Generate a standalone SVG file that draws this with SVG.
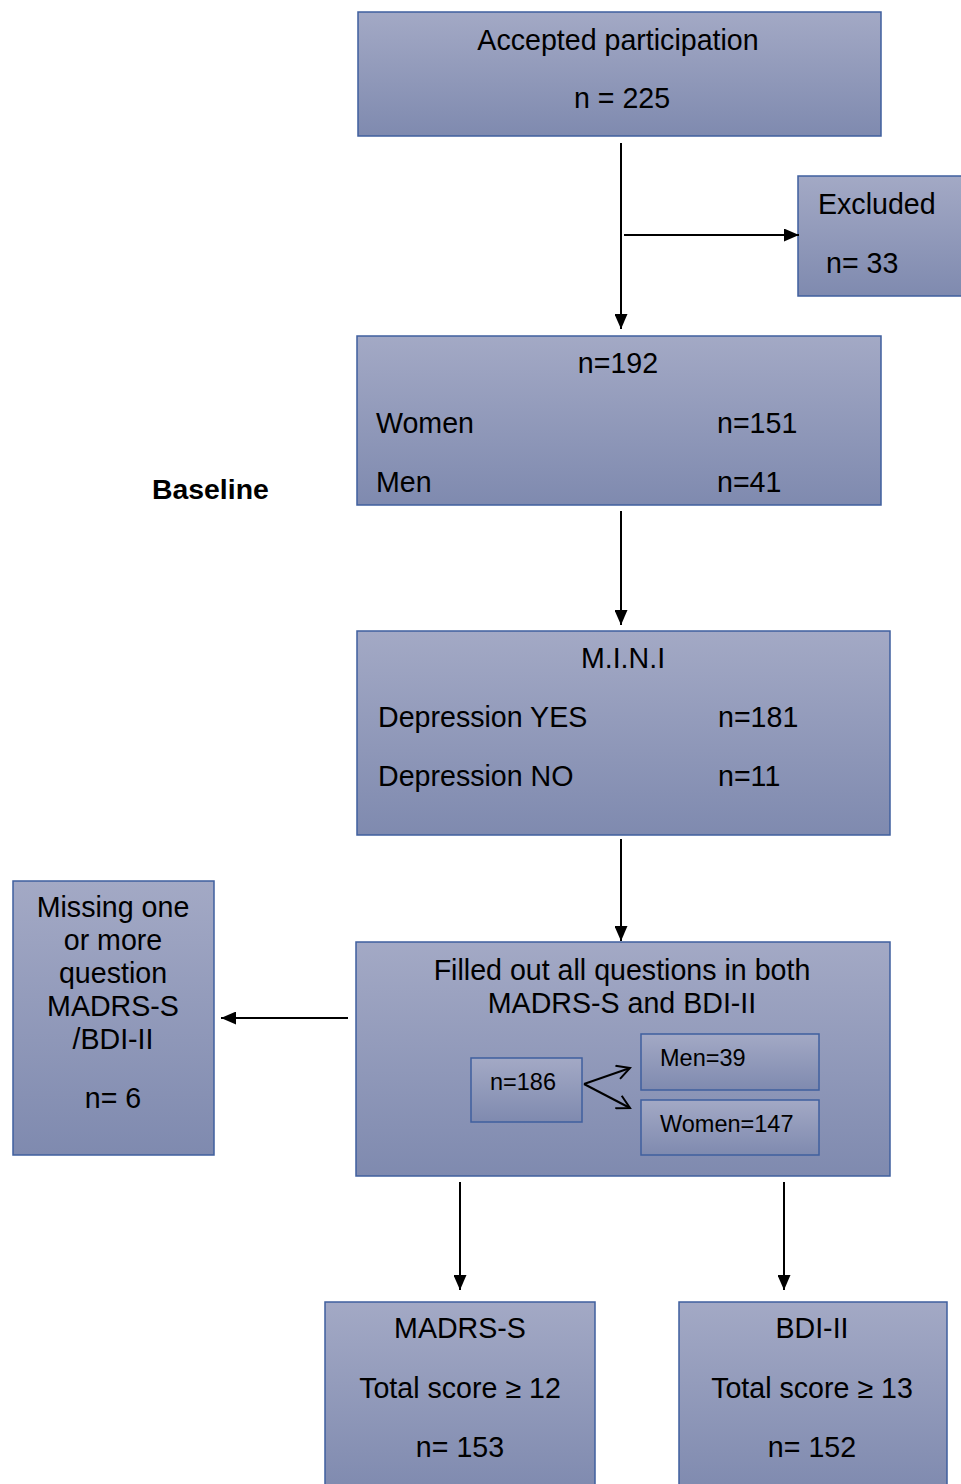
<svg xmlns="http://www.w3.org/2000/svg" width="961" height="1484" viewBox="0 0 961 1484">
<defs>
<linearGradient id="g" x1="0" y1="0" x2="0" y2="1">
<stop offset="0" stop-color="#a3a9c5"/>
<stop offset="1" stop-color="#7f8aaf"/>
</linearGradient>
<marker id="ah" markerWidth="15" markerHeight="13" refX="15" refY="6.5" orient="auto" markerUnits="userSpaceOnUse">
<path d="M0,0 L15,6.5 L0,13 Z" fill="#000"/>
</marker>
<marker id="oh" markerWidth="16" markerHeight="16" refX="14" refY="8" orient="auto" markerUnits="userSpaceOnUse">
<path d="M1,1 L14,8 L1,15" fill="none" stroke="#000" stroke-width="2"/>
</marker>
<style>
.box{fill:url(#g);stroke:#3f5f9e;stroke-width:1.5}
.t{font-family:"Liberation Sans",Arial,sans-serif;font-size:28.6px;fill:#000}
.s{font-family:"Liberation Sans",Arial,sans-serif;font-size:23.5px;fill:#000}
.c{text-anchor:middle}
.ln{stroke:#000;stroke-width:2;fill:none}
</style>
</defs>
<rect width="961" height="1484" fill="#fff"/>
<g id="accepted">
<rect class="box" x="358" y="12" width="523" height="124"/>
<text class="t c" x="618" y="50">Accepted participation</text>
<text class="t c" x="622" y="108">n = 225</text>
</g>
<g id="excluded">
<rect class="box" x="798" y="176" width="170" height="120"/>
<text class="t" x="818" y="214">Excluded</text>
<text class="t" x="826" y="273">n= 33</text>
</g>
<g id="n192">
<rect class="box" x="357" y="336" width="524" height="169"/>
<text class="t c" x="618" y="373">n=192</text>
<text class="t" x="376" y="433">Women</text>
<text class="t" x="717" y="433">n=151</text>
<text class="t" x="376" y="492">Men</text>
<text class="t" x="717" y="492">n=41</text>
</g>
<g id="baseline">
<text class="t" x="152" y="499" style="font-weight:bold;font-size:28.4px">Baseline</text>
</g>
<g id="mini">
<rect class="box" x="357" y="631" width="533" height="204"/>
<text class="t c" x="623" y="668">M.I.N.I</text>
<text class="t" x="378" y="727">Depression YES</text>
<text class="t" x="718" y="727">n=181</text>
<text class="t" x="378" y="786">Depression NO</text>
<text class="t" x="718" y="786">n=11</text>
</g>
<g id="filled">
<rect class="box" x="356" y="942" width="534" height="234"/>
<text class="t c" x="622" y="980">Filled out all questions in both</text>
<text class="t c" x="622" y="1013">MADRS-S and BDI-II</text>
</g>
<g id="n186">
<rect class="box" x="471" y="1058" width="111" height="64"/>
<text class="s" x="490" y="1090">n=186</text>
</g>
<g id="men39">
<rect class="box" x="641" y="1034" width="178" height="56"/>
<text class="s" x="660" y="1066">Men=39</text>
</g>
<g id="women147">
<rect class="box" x="641" y="1100" width="178" height="55"/>
<text class="s" x="660" y="1132">Women=147</text>
</g>
<g id="missing">
<rect class="box" x="13" y="881" width="201" height="274"/>
<text class="t c" x="113" y="917">Missing one</text>
<text class="t c" x="113" y="950">or more</text>
<text class="t c" x="113" y="983">question</text>
<text class="t c" x="113" y="1016">MADRS-S</text>
<text class="t c" x="113" y="1049">/BDI-II</text>
<text class="t c" x="113" y="1108">n= 6</text>
</g>
<g id="madrs">
<rect class="box" x="325" y="1302" width="270" height="190"/>
<text class="t c" x="460" y="1338">MADRS-S</text>
<text class="t c" x="460" y="1398">Total score ≥ 12</text>
<text class="t c" x="460" y="1457">n= 153</text>
</g>
<g id="bdi">
<rect class="box" x="679" y="1302" width="268" height="190"/>
<text class="t c" x="812" y="1338">BDI-II</text>
<text class="t c" x="812" y="1398">Total score ≥ 13</text>
<text class="t c" x="812" y="1457">n= 152</text>
</g>
<g id="connectors">
<line class="ln" x1="621" y1="143" x2="621" y2="329" marker-end="url(#ah)"/>
<line class="ln" x1="624" y1="235" x2="799" y2="235" marker-end="url(#ah)"/>
<line class="ln" x1="621" y1="511" x2="621" y2="625" marker-end="url(#ah)"/>
<line class="ln" x1="621" y1="839" x2="621" y2="941" marker-end="url(#ah)"/>
<line class="ln" x1="348" y1="1018" x2="221" y2="1018" marker-end="url(#ah)"/>
<line class="ln" x1="460" y1="1182" x2="460" y2="1290" marker-end="url(#ah)"/>
<line class="ln" x1="784" y1="1182" x2="784" y2="1290" marker-end="url(#ah)"/>
<line class="ln" x1="584" y1="1084" x2="630" y2="1068" marker-end="url(#oh)"/>
<line class="ln" x1="584" y1="1084" x2="630" y2="1108" marker-end="url(#oh)"/>
</g>
</svg>
